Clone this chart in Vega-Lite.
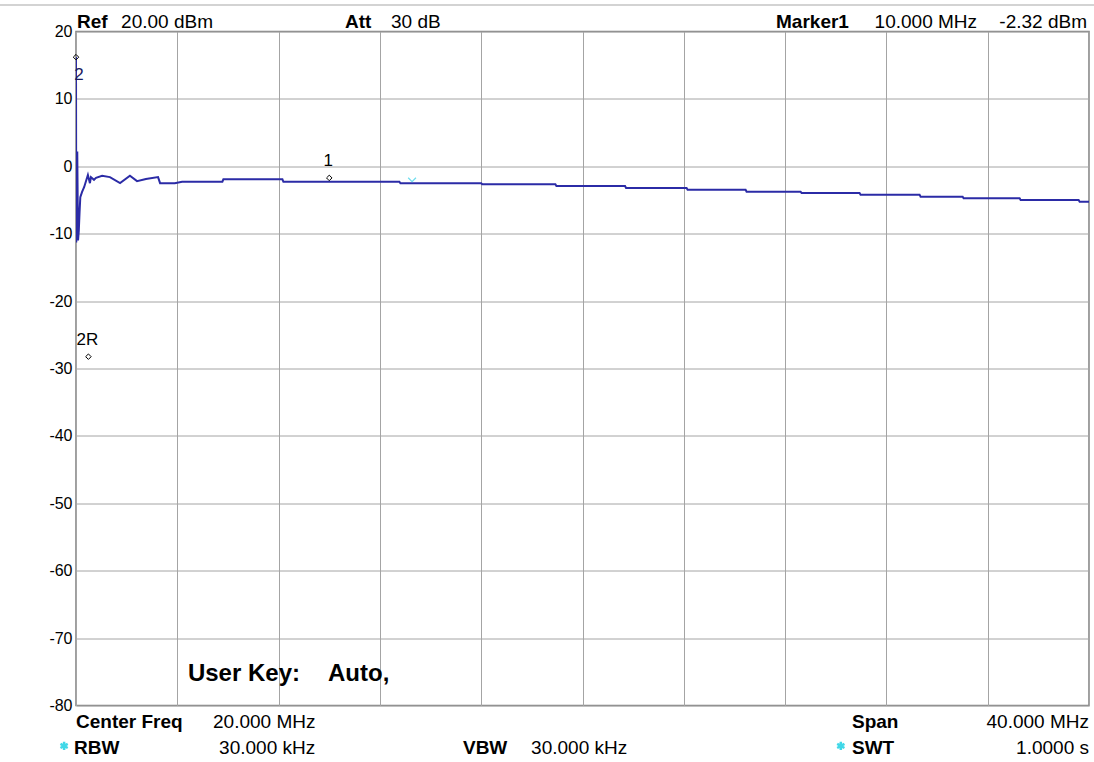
{
  "$schema": "https://vega.github.io/schema/vega-lite/v6.json",
  "width": 1013,
  "height": 674,
  "autosize": {"type": "none"},
  "padding": {"left": 76, "top": 31.5, "right": 5, "bottom": 56.5},
  "background": "white",
  "config": {
    "font": "Liberation Sans",
    "view": {"stroke": "#808080", "strokeWidth": 1.5}
  },
  "datasets": {
    "trace": [
      {"f": 0, "db": 16.2}, {"f": 0.01, "db": -11.3}, {"f": 0.05, "db": 2.2}, {"f": 0.08, "db": -11.0},
      {"f": 0.11, "db": -9.6}, {"f": 0.14, "db": -6.9}, {"f": 0.17, "db": -4.6}, {"f": 0.24, "db": -3.8},
      {"f": 0.32, "db": -3.1}, {"f": 0.47, "db": -1.3}, {"f": 0.55, "db": -2.5}, {"f": 0.59, "db": -1.6},
      {"f": 0.71, "db": -2.0}, {"f": 0.79, "db": -1.7}, {"f": 1.03, "db": -1.4}, {"f": 1.34, "db": -1.6},
      {"f": 1.74, "db": -2.5}, {"f": 2.13, "db": -1.4}, {"f": 2.41, "db": -2.2}, {"f": 2.76, "db": -1.9},
      {"f": 3.24, "db": -1.6}, {"f": 3.32, "db": -2.5}, {"f": 3.9, "db": -2.5}, {"f": 4.19, "db": -2.29},
      {"f": 5.78, "db": -2.29}, {"f": 5.82, "db": -1.93}, {"f": 8.15, "db": -1.93}, {"f": 8.19, "db": -2.3},
      {"f": 12.77, "db": -2.3}, {"f": 12.81, "db": -2.52}, {"f": 16.0, "db": -2.52}, {"f": 16.04, "db": -2.67},
      {"f": 18.93, "db": -2.67}, {"f": 18.97, "db": -2.92}, {"f": 21.68, "db": -2.92}, {"f": 21.72, "db": -3.22},
      {"f": 24.11, "db": -3.22}, {"f": 24.15, "db": -3.47}, {"f": 26.44, "db": -3.47}, {"f": 26.48, "db": -3.77},
      {"f": 28.61, "db": -3.77}, {"f": 28.65, "db": -3.96}, {"f": 30.94, "db": -3.96}, {"f": 30.98, "db": -4.21},
      {"f": 33.31, "db": -4.21}, {"f": 33.35, "db": -4.51}, {"f": 35.01, "db": -4.51}, {"f": 35.05, "db": -4.75},
      {"f": 37.26, "db": -4.75}, {"f": 37.3, "db": -5.0}, {"f": 39.59, "db": -5.0}, {"f": 39.63, "db": -5.25},
      {"f": 40, "db": -5.25}
    ],
    "markers": [
      {"name": "1", "f": 10, "db": -2.32, "pos": "above"},
      {"name": "2", "f": 0, "db": 15.6, "pos": "below"},
      {"name": "2R", "f": 0.49, "db": -28.84, "pos": "above"}
    ],
    "xmark": [{"f": 13.27, "db": -2.1}],
    "stars": [{"f": -0.47, "db": -86.0}, {"f": 30.2, "db": -86.0}],
    "topline": [{"f": -9.8, "f2": 40.2, "db": 23.93}],
    "labels": [
      {"text": "Ref", "f": 0.04, "db": 20.52, "kind": "bl"},
      {"text": "20.00 dBm", "f": 1.78, "db": 20.52, "kind": "rl"},
      {"text": "Att", "f": 10.62, "db": 20.52, "kind": "bl"},
      {"text": "30 dB", "f": 12.44, "db": 20.52, "kind": "rl"},
      {"text": "Marker1", "f": 30.52, "db": 20.52, "kind": "br"},
      {"text": "10.000 MHz", "f": 35.58, "db": 20.52, "kind": "rr"},
      {"text": "-2.32 dBm", "f": 39.92, "db": 20.52, "kind": "rr"},
      {"text": "Center Freq", "f": 0.0, "db": -83.3, "kind": "bl"},
      {"text": "20.000 MHz", "f": 5.41, "db": -83.3, "kind": "rl"},
      {"text": "Span", "f": 30.64, "db": -83.3, "kind": "bl"},
      {"text": "40.000 MHz", "f": 40.0, "db": -83.3, "kind": "rr"},
      {"text": "RBW", "f": -0.08, "db": -87.2, "kind": "bl"},
      {"text": "30.000 kHz", "f": 5.65, "db": -87.2, "kind": "rl"},
      {"text": "VBW", "f": 15.28, "db": -87.2, "kind": "bl"},
      {"text": "30.000 kHz", "f": 17.97, "db": -87.2, "kind": "rl"},
      {"text": "SWT", "f": 30.64, "db": -87.2, "kind": "bl"},
      {"text": "1.0000 s", "f": 40.0, "db": -87.2, "kind": "rr"},
      {"text": "User Key:", "f": 4.42, "db": -76.37, "kind": "big"},
      {"text": "Auto,", "f": 9.95, "db": -76.37, "kind": "big"}
    ]
  },
  "encoding": {
    "x": {"field": "f", "type": "quantitative", "scale": {"domain": [0, 40], "nice": false, "zero": false},
      "axis": {"values": [0, 4, 8, 12, 16, 20, 24, 28, 32, 36, 40], "labels": false, "ticks": false, "domain": false, "title": null, "grid": true, "gridColor": "#a4a4a4", "gridWidth": 1}},
    "y": {"field": "db", "type": "quantitative", "scale": {"domain": [-80, 20], "nice": false, "zero": false},
      "axis": {"values": [-80, -70, -60, -50, -40, -30, -20, -10, 0, 10, 20], "labelExpr": "replace(datum.label, '−', '-')", "ticks": false, "domain": false, "title": null, "grid": true, "gridColor": "#a4a4a4", "gridWidth": 1, "labelFontSize": 16, "labelColor": "#000000", "labelPadding": 4, "labelFont": "Liberation Sans"}}
  },
  "layer": [
    {
      "data": {"name": "topline"},
      "mark": {"type": "rule", "color": "#c4c4c4", "strokeWidth": 1.5, "clip": false},
      "encoding": {"x2": {"field": "f2"}}
    },
    {
      "data": {"name": "trace"},
      "mark": {"type": "line", "color": "#2b2ba6", "strokeWidth": 2, "clip": true},
      "encoding": {"order": {"field": "f", "type": "quantitative"}}
    },
    {
      "data": {"name": "markers"},
      "mark": {"type": "point", "shape": "diamond", "size": 30, "filled": false, "stroke": "#000000", "strokeWidth": 1, "yOffset": -4, "opacity": 1}
    },
    {
      "data": {"name": "markers"},
      "transform": [{"filter": "datum.pos == 'above'"}],
      "mark": {"type": "text", "fontSize": 17, "color": "#000000", "baseline": "middle", "align": "center", "dy": -21, "dx": -1},
      "encoding": {"text": {"field": "name"}}
    },
    {
      "data": {"name": "markers"},
      "transform": [{"filter": "datum.pos == 'below'"}],
      "mark": {"type": "text", "fontSize": 17, "color": "#1a1a60", "baseline": "middle", "align": "center", "dy": 14, "dx": 3},
      "encoding": {"text": {"field": "name"}}
    },
    {
      "data": {"name": "xmark"},
      "mark": {"type": "point", "shape": "M-1,-0.7L0,0.3L1,-0.7M0,0.3L0,0.3", "size": 60, "filled": false, "stroke": "#30d0e8", "strokeWidth": 1.2}
    },
    {
      "data": {"name": "stars"},
      "mark": {"type": "point", "shape": "M0,-1L0,1M-0.87,-0.5L0.87,0.5M-0.87,0.5L0.87,-0.5", "size": 70, "filled": false, "stroke": "#40d8e8", "strokeWidth": 2.5, "opacity": 1, "clip": false}
    },
    {
      "data": {"name": "labels"},
      "transform": [{"filter": "datum.kind == 'bl'"}],
      "mark": {"type": "text", "fontSize": 19, "fontWeight": "bold", "align": "left", "baseline": "alphabetic", "color": "#000000", "clip": false},
      "encoding": {"text": {"field": "text"}}
    },
    {
      "data": {"name": "labels"},
      "transform": [{"filter": "datum.kind == 'rl'"}],
      "mark": {"type": "text", "fontSize": 19, "align": "left", "baseline": "alphabetic", "color": "#000000", "clip": false},
      "encoding": {"text": {"field": "text"}}
    },
    {
      "data": {"name": "labels"},
      "transform": [{"filter": "datum.kind == 'br'"}],
      "mark": {"type": "text", "fontSize": 19, "fontWeight": "bold", "align": "right", "baseline": "alphabetic", "color": "#000000", "clip": false},
      "encoding": {"text": {"field": "text"}}
    },
    {
      "data": {"name": "labels"},
      "transform": [{"filter": "datum.kind == 'rr'"}],
      "mark": {"type": "text", "fontSize": 19, "align": "right", "baseline": "alphabetic", "color": "#000000", "clip": false},
      "encoding": {"text": {"field": "text"}}
    },
    {
      "data": {"name": "labels"},
      "transform": [{"filter": "datum.kind == 'big'"}],
      "mark": {"type": "text", "fontSize": 24, "fontWeight": "bold", "align": "left", "baseline": "alphabetic", "color": "#000000", "clip": false},
      "encoding": {"text": {"field": "text"}}
    }
  ]
}
